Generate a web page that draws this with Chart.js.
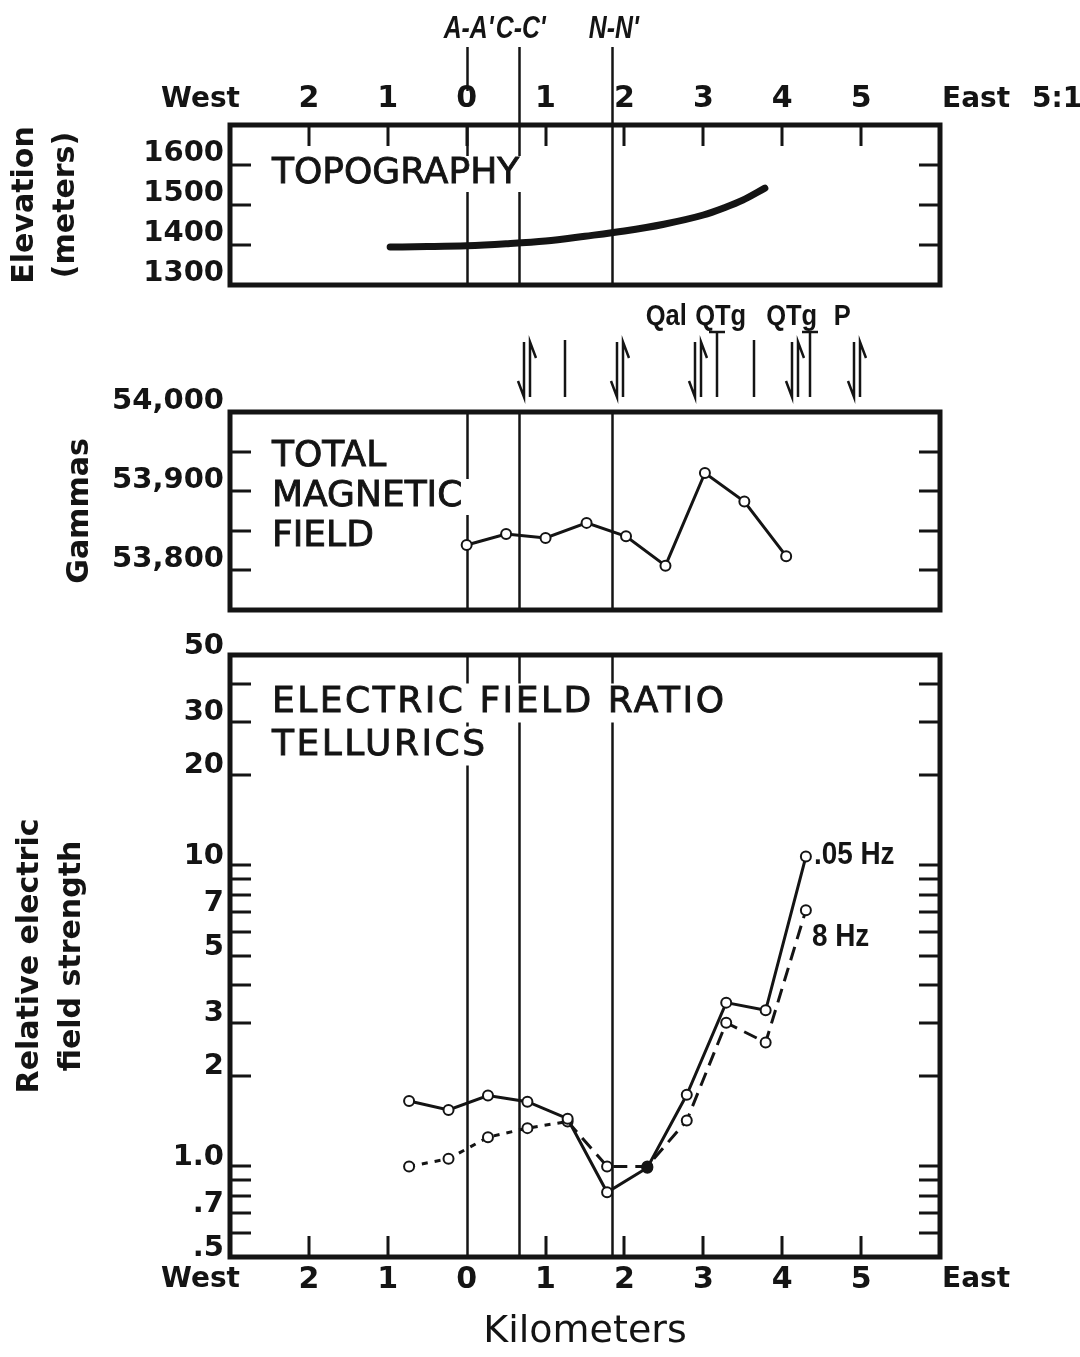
<!DOCTYPE html>
<html>
<head>
<meta charset="utf-8">
<script src="https://cdn.jsdelivr.net/npm/chart.js@4"></script>
<style>
  html, body { margin: 0; padding: 0; background: #fff; }
  #wrap { position: relative; width: 1080px; height: 1357px; }
  canvas { position: absolute; left: 0; }
</style>
</head>
<body>
<div id="wrap">
  <canvas id="topo" width="1080" height="300" style="top:0px"></canvas>
  <canvas id="mag" width="1080" height="320" style="top:300px"></canvas>
  <canvas id="tell" width="1080" height="737" style="top:620px"></canvas>
</div>
<script>
const ink = '#141414';
const face = '"DejaVu Sans", sans-serif';
const narrow = '"Liberation Sans", sans-serif';

// distance along profile, km east of A-A'
const kmTicks = [-3, -2, -1, 0, 1, 2, 3, 4, 5, 6];
const kmTickLabels = ['West', '2', '1', '0', '1', '2', '3', '4', '5', 'East'];
const sectionNames = ["A-A'", "C-C'", "N-N'"];
const sectionKm = [0, 0.66, 1.84];

// topography
const topoKm = [-0.97, -0.5, 0, 0.5, 1, 1.5, 2, 2.5, 3, 3.25, 3.5, 3.78];
const topoElev = [1395, 1396, 1398, 1403, 1410, 1422, 1435, 1452, 1475, 1492, 1512, 1542];
const elevTicks = [1300, 1400, 1500, 1600, 1700];
const elevTickLabels = ['1300', '1400', '1500', '1600', ''];

// total magnetic field
const magKm = [0, 0.5, 1.0, 1.52, 2.02, 2.52, 3.02, 3.52, 4.05];
const magGammas = [53832, 53846, 53841, 53860, 53843, 53806, 53923, 53887, 53818];
const gammaTicks = [53750, 53800, 53850, 53900, 53950, 54000];
const gammaTickLabels = ['', '53,800', '', '53,900', '', '54,000'];

// geology marks above the magnetic panel
const faultKm = [0.77, 1.25, 1.94, 2.93, 3.17, 3.64, 4.16, 4.35, 4.95];
const faultKind = ['fault', 'contact', 'fault', 'fault', 'unit', 'contact', 'fault', 'unit', 'fault'];
const unitNames = ['Qal', 'QTg', 'QTg', 'P'];
const unitKm = [2.53, 3.22, 4.12, 4.76];

// tellurics, relative electric field strength
const telKm = [-0.73, -0.23, 0.27, 0.77, 1.28, 1.78, 2.29, 2.79, 3.29, 3.79, 4.3];
const ratioLowHz = [1.65, 1.54, 1.72, 1.64, 1.44, 0.82, 0.99, 1.73, 3.5, 3.3, 10.7];
const ratioHighHz = [1.0, 1.06, 1.25, 1.34, 1.41, 1.0, 1.0, 1.42, 3.0, 2.58, 7.1];
const seriesNames = ['.05 Hz', '8 Hz'];
const ratioTicks = [0.5, 0.6, 0.7, 0.8, 0.9, 1, 2, 3, 4, 5, 6, 7, 8, 9, 10, 20, 30, 40, 50];
const ratioTickLabels = ['.5', '', '.7', '', '', '1.0', '2', '3', '', '5', '', '7', '', '', '10', '20', '30', '', '50'];

const pairs = (xs, ys) => xs.map((x, i) => ({ x, y: ys[i] }));

// text squeezed sideways, the lettering on the original is narrow
function narrowText(ctx, text, x, y, sx, align) {
  const w = ctx.measureText(text).width * sx;
  const left = align === 'center' ? x - w / 2 : x;
  ctx.save();
  ctx.textAlign = 'left';
  ctx.translate(left, y);
  ctx.scale(sx, 1);
  ctx.fillText(text, 0, 0);
  ctx.restore();
  return w;
}

// box, inward ticks, section lines and panel captions
const frame = {
  id: 'frame',
  beforeDatasetsDraw(chart, args, o) {
    const { ctx, chartArea: a } = chart;
    const x = chart.scales.x;
    ctx.save();
    ctx.strokeStyle = ink;
    ctx.lineWidth = 2.5;
    sectionKm.forEach(km => {
      const px = Math.round(x.getPixelForValue(km)) + 0.5;
      ctx.beginPath();
      ctx.moveTo(px, a.top);
      ctx.lineTo(px, a.bottom);
      ctx.stroke();
    });
    ctx.textBaseline = 'middle';
    ctx.textAlign = 'left';
    (o.title || []).forEach((line, i) => {
      ctx.font = o.titleFont;
      ctx.letterSpacing = o.titleSpacing;
      const w = ctx.measureText(line).width;
      const tx = a.left + o.titleX;
      const ty = a.top + o.titleY + i * o.titleLead;
      ctx.fillStyle = '#fff';
      ctx.fillRect(tx - 8, ty - o.titleLead / 2 + 2, w + 16, o.titleLead - 4);
      ctx.fillStyle = ink;
      ctx.lineWidth = 0.9;
      ctx.fillText(line, tx, ty);
      ctx.strokeText(line, tx, ty);
    });
    ctx.restore();
  },
  afterDraw(chart, args, o) {
    const { ctx, chartArea: a } = chart;
    const { x, y } = chart.scales;
    const L = 21;
    ctx.save();
    ctx.strokeStyle = ink;
    ctx.lineWidth = 3;
    ctx.beginPath();
    (o.sideTicks || []).forEach(v => {
      const py = Math.round(y.getPixelForValue(v));
      ctx.moveTo(a.left, py); ctx.lineTo(a.left + L, py);
      ctx.moveTo(a.right, py); ctx.lineTo(a.right - L, py);
    });
    (o.kmMarks || []).forEach(v => {
      const px = Math.round(x.getPixelForValue(v));
      if (o.kmSide === 'top') { ctx.moveTo(px, a.top); ctx.lineTo(px, a.top + L); }
      else { ctx.moveTo(px, a.bottom); ctx.lineTo(px, a.bottom - L); }
    });
    ctx.stroke();
    ctx.lineWidth = 5;
    ctx.strokeRect(a.left, a.top, a.right - a.left, a.bottom - a.top);
    if (o.kmSide) {
      const ty = o.kmSide === 'top' ? a.top - 25 : a.bottom + 23;
      ctx.font = 'bold 28px ' + face;
      ctx.fillStyle = ink;
      ctx.textBaseline = 'middle';
      ctx.textAlign = 'right';
      ctx.fillText(kmTickLabels[0], a.left + 10, ty);
      ctx.textAlign = 'left';
      ctx.fillText(kmTickLabels[kmTickLabels.length - 1], a.right + 2, ty);
    }
    ctx.restore();
  }
};

// section names over the top panel
const sectionLabels = {
  id: 'sectionLabels',
  afterDraw(chart) {
    const { ctx, chartArea: a } = chart;
    const x = chart.scales.x;
    ctx.save();
    ctx.strokeStyle = ink;
    ctx.lineWidth = 2.5;
    sectionKm.forEach((km, i) => {
      const px = Math.round(x.getPixelForValue(km)) + 0.5;
      ctx.beginPath();
      ctx.moveTo(px, a.top - 78);
      ctx.lineTo(px, i === 0 ? a.top - 34 : a.top);
      ctx.stroke();
    });
    ctx.fillStyle = ink;
    ctx.textBaseline = 'middle';
    ctx.font = 'italic bold 31px ' + narrow;
    sectionKm.forEach((km, i) => narrowText(ctx, sectionNames[i], x.getPixelForValue(km) + 2, a.top - 96, 0.8, 'center'));
    ctx.font = 'bold 28px ' + face;
    ctx.textAlign = 'left';
    ctx.fillText('5:1', a.right + 92, a.top - 25);
    ctx.restore();
  }
};

// faults, contacts and unit names above the magnetic panel
const geology = {
  id: 'geology',
  afterDraw(chart) {
    const { ctx, chartArea: a } = chart;
    const x = chart.scales.x;
    const top = a.top - 70, bot = a.top - 15;
    ctx.save();
    ctx.strokeStyle = ink;
    ctx.lineWidth = 2.5;
    faultKm.forEach((km, i) => {
      const px = Math.round(x.getPixelForValue(km));
      ctx.beginPath();
      if (faultKind[i] === 'fault') {
        ctx.moveTo(px - 3, top); ctx.lineTo(px - 3, bot); ctx.lineTo(px - 9, bot - 16);
        ctx.moveTo(px + 3, bot); ctx.lineTo(px + 3, top); ctx.lineTo(px + 9, top + 16);
      } else if (faultKind[i] === 'unit') {
        ctx.moveTo(px - 8, a.top - 80); ctx.lineTo(px + 8, a.top - 80);
        ctx.moveTo(px, a.top - 80); ctx.lineTo(px, bot);
      } else {
        ctx.moveTo(px, top - 2); ctx.lineTo(px, bot);
      }
      ctx.stroke();
    });
    ctx.fillStyle = ink;
    ctx.textBaseline = 'middle';
    ctx.font = 'bold 29px ' + narrow;
    unitKm.forEach((km, i) => narrowText(ctx, unitNames[i], x.getPixelForValue(km), a.top - 95, 0.88, 'center'));
    ctx.restore();
  }
};

// frequency tags at the east end of the telluric lines
const seriesTags = {
  id: 'seriesTags',
  afterDatasetsDraw(chart) {
    const ctx = chart.ctx;
    const p0 = chart.getDatasetMeta(0).data.at(-1);
    const p1 = chart.getDatasetMeta(1).data.at(-1);
    ctx.save();
    ctx.fillStyle = ink;
    ctx.textBaseline = 'middle';
    ctx.font = 'bold 31px ' + narrow;
    narrowText(ctx, seriesNames[0], p0.x + 8, p0.y - 1, 0.9, 'left');
    narrowText(ctx, seriesNames[1], p1.x + 6, p1.y + 27, 0.9, 'left');
    ctx.restore();
  }
};

function kmScale(position, height, pad, extra) {
  return Object.assign({
    type: 'linear', position,
    min: kmTicks[0], max: kmTicks[kmTicks.length - 1],
    afterBuildTicks: s => { s.ticks = kmTicks.map(value => ({ value })); },
    afterFit: s => { s.height = height; s.paddingLeft = 0; s.paddingRight = 0; },
    grid: { display: false, drawTicks: false },
    border: { display: false },
    ticks: {
      autoSkip: false, maxRotation: 0, padding: pad, color: ink,
      font: { family: face, size: 30, weight: 'bold' },
      callback: (v, i) => (i === 0 || i === kmTicks.length - 1) ? '' : kmTickLabels[i]
    }
  }, extra || {});
}

function valueScale(cfg) {
  return {
    type: cfg.type || 'linear',
    min: cfg.ticks[0], max: cfg.ticks[cfg.ticks.length - 1],
    afterBuildTicks: s => { s.ticks = cfg.ticks.map(value => ({ value })); },
    afterFit: s => { s.width = 230; s.paddingTop = 0; s.paddingBottom = 0; },
    grid: { display: false, drawTicks: false },
    border: { display: false },
    ticks: {
      autoSkip: false, padding: 6, labelOffset: cfg.offset, color: ink,
      font: { family: face, size: 29, weight: 'bold' },
      callback: v => cfg.labels[cfg.ticks.indexOf(v)]
    },
    title: {
      display: true, text: cfg.title, color: ink,
      font: { family: face, size: 30, weight: 'bold', lineHeight: cfg.lead },
      padding: { top: cfg.pad, bottom: 0 }
    }
  };
}

const common = {
  responsive: false,
  animation: false,
  events: []
};

new Chart(document.getElementById('topo'), {
  type: 'line',
  data: {
    datasets: [{
      data: pairs(topoKm, topoElev),
      borderColor: ink, borderWidth: 7, borderCapStyle: 'round',
      pointRadius: 0, cubicInterpolationMode: 'monotone'
    }]
  },
  options: Object.assign({}, common, {
    layout: { padding: { left: 0, right: 140, top: 0, bottom: 15 } },
    plugins: {
      legend: { display: false }, tooltip: { enabled: false },
      frame: {
        sideTicks: [1400, 1500, 1600], kmMarks: [-2, -1, 0, 1, 2, 3, 4, 5], kmSide: 'top',
        title: ['TOPOGRAPHY'], titleX: 42, titleY: 49, titleLead: 40,
        titleFont: '36px ' + face, titleSpacing: '0px'
      }
    },
    scales: {
      x: kmScale('top', 125, 8),
      y: valueScale({ ticks: elevTicks, labels: elevTickLabels, offset: -12,
        title: ['Elevation', '(meters)'], lead: 1.35, pad: 5 })
    }
  }),
  plugins: [frame, sectionLabels]
});

new Chart(document.getElementById('mag'), {
  type: 'line',
  data: {
    datasets: [{
      data: pairs(magKm, magGammas),
      borderColor: ink, borderWidth: 3,
      pointRadius: 5, pointBorderWidth: 2, pointBorderColor: ink, pointBackgroundColor: '#fff'
    }]
  },
  options: Object.assign({}, common, {
    layout: { padding: { left: 0, right: 140, top: 112, bottom: 10 } },
    plugins: {
      legend: { display: false }, tooltip: { enabled: false },
      frame: {
        sideTicks: [53800, 53850, 53900, 53950],
        title: ['TOTAL', 'MAGNETIC', 'FIELD'], titleX: 42, titleY: 45, titleLead: 40,
        titleFont: '36px ' + face, titleSpacing: '0px'
      }
    },
    scales: {
      x: { type: 'linear', min: kmTicks[0], max: kmTicks[kmTicks.length - 1], display: false },
      y: valueScale({ ticks: gammaTicks, labels: gammaTickLabels, offset: -11,
        title: 'Gammas', lead: 1.25, pad: 61 })
    }
  }),
  plugins: [frame, geology]
});

new Chart(document.getElementById('tell'), {
  type: 'line',
  data: {
    datasets: [{
      label: seriesNames[0],
      data: pairs(telKm, ratioLowHz),
      borderColor: ink, borderWidth: 3,
      pointRadius: 5, pointBorderWidth: 2, pointBorderColor: ink,
      pointBackgroundColor: telKm.map((_, i) => i === 6 ? ink : '#fff')
    }, {
      label: seriesNames[1],
      data: pairs(telKm, ratioHighHz),
      borderColor: ink, borderWidth: 3,
      segment: { borderDash: c => c.p0DataIndex < 4 ? [6, 7] : [14, 8] },
      pointRadius: 5, pointBorderWidth: 2, pointBorderColor: ink, pointBackgroundColor: '#fff'
    }]
  },
  options: Object.assign({}, common, {
    layout: { padding: { left: 0, right: 140, top: 35, bottom: 0 } },
    plugins: {
      legend: { display: false }, tooltip: { enabled: false },
      frame: {
        sideTicks: ratioTicks.slice(1, -1), kmMarks: [-2, -1, 1, 2, 3, 4, 5], kmSide: 'bottom',
        title: ['ELECTRIC FIELD RATIO', 'TELLURICS'], titleX: 42, titleY: 48, titleLead: 43,
        titleFont: '36px ' + face, titleSpacing: '2.5px'
      }
    },
    scales: {
      x: kmScale('bottom', 100, 5, {
        title: { display: true, text: 'Kilometers', color: ink,
          font: { family: face, size: 38, lineHeight: 1.2 }, padding: { top: 0, bottom: 2 } }
      }),
      y: valueScale({ type: 'logarithmic', ticks: ratioTicks, labels: ratioTickLabels, offset: -9,
        title: ['Relative electric', 'field strength'], lead: 1.4, pad: 9 })
    }
  }),
  plugins: [frame, seriesTags]
});
</script>
</body>
</html>
